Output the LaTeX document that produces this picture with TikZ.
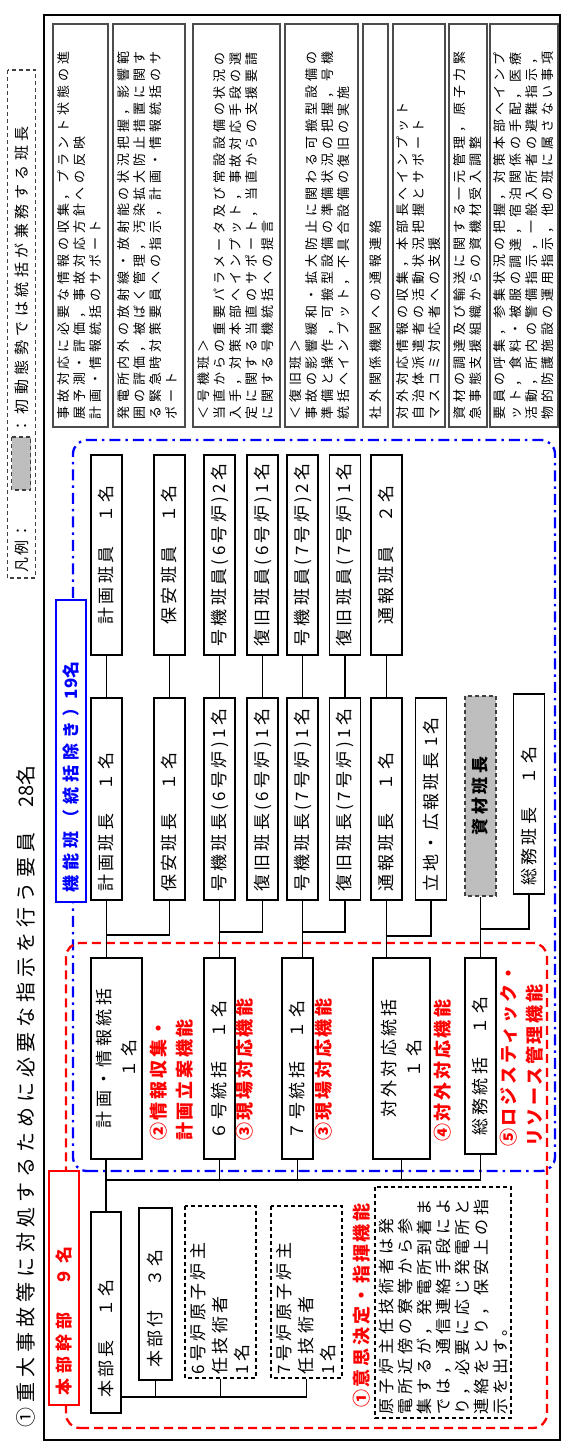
\documentclass[tikz,border=0pt]{standalone}
\usepackage{fontspec}
\setmainfont{Noto Sans CJK JP}
\newfontfamily\jpBox[LetterSpace=20]{Noto Sans CJK JP}
\newfontfamily\jpDesc[LetterSpace=30]{Noto Sans CJK JP}
\newfontfamily\jpTitle[LetterSpace=25]{Noto Sans CJK JP}
\newfontfamily\jpRed[LetterSpace=15]{Noto Sans CJK JP}
\newfontfamily\jpLbl[LetterSpace=30]{Noto Sans CJK JP}
\newfontfamily\jpNote[LetterSpace=25]{Noto Sans CJK JP}
\definecolor{grayfill}{RGB}{190,190,190}
\tikzset{
  box/.style={draw=black, line width=1.1pt, fill=white, inner sep=0pt, font=\jpBox\fontsize{17}{20}\selectfont},
  memb/.style={box, minimum width=200pt, minimum height=31pt, align=center},
  lead/.style={box, minimum width=202pt, minimum height=31pt, text width=186pt, align=left},
  sub/.style={box, minimum width=201pt, minimum height=31pt, text width=163pt, align=left},
  dbox/.style={box, dashed, dash pattern=on 4pt off 3pt},
  graybox/.style={draw=black!75, line width=1.1pt, dash pattern=on 4pt off 3pt, fill=grayfill, inner sep=0pt},
  descbox/.style={draw=black!70, line width=1.3pt},
  desc/.style={anchor=north west, inner sep=0pt, align=left, font=\jpDesc\fontsize{13}{16}\selectfont},
  redlbl/.style={anchor=west, inner sep=0pt, align=left, text=red, font=\jpRed\bfseries\fontsize{18}{26}\selectfont},
  conn/.style={draw=black, line width=1.1pt},
  bluecont/.style={draw=blue, line width=2.3pt, rounded corners=14pt, dash pattern=on 11pt off 5pt on 2.5pt off 5pt},
  redcont/.style={draw=red, line width=2.3pt, rounded corners=14pt, dash pattern=on 9pt off 5pt},
}
\begin{document}
\begin{tikzpicture}[x=1pt,y=1pt]
\useasboundingbox (0,0) rectangle (562,1445);
\begin{scope}[rotate=90, transform shape]
% outer frame
\draw[line width=2.6pt] (5,-44) rectangle (1430,-560);
% title
\node[anchor=west, inner sep=0pt, font=\jpTitle\fontsize{20}{24}\selectfont] (title) at (17,-26) {①重大事故等に対処するために必要な指示を行う要員　{\rmfamily 28}名};
% legend
\node[draw=black!75, line width=1.1pt, dash pattern=on 4pt off 3pt, minimum width=508pt, minimum height=28pt, inner sep=0pt] (leg) at (1121,-21.5) {};
\node[anchor=west, inner sep=0pt, font=\jpRed\fontsize{15}{18}\selectfont] (legt1) at (872,-21.5) {凡例：};
\node[graybox, minimum width=53pt, minimum height=19pt] (legg) at (981.5,-21) {};
\node[anchor=west, inner sep=0pt, font=\jpLbl\fontsize{15}{18}\selectfont] (legt2) at (1011,-21.5) {：初動態勢では統括が兼務する班長};

% description boxes
\draw[descbox] (1018,-53) rectangle (1421,-108);
\node[desc] (d1) at (1025,-57) {事故対応に必要な情報の収集，プラント状態の進\\展予測・評価，事故対応方針への反映\\計画・情報統括のサポート};
\draw[descbox] (1018,-113) rectangle (1421,-185);
\node[desc] (d2) at (1025,-117) {発電所内外の放射線・放射能の状況把握，影響範\\囲の評価，被ばく管理，汚染拡大防止措置に関す\\る緊急時対策要員への指示，計画・情報統括のサ\\ポート};
\draw[descbox] (1018,-193) rectangle (1421,-280);
\node[desc] (d3) at (1025,-197) {＜号機班＞\\当直からの重要パラメータ及び常設設備の状況の\\入手，対策本部へインプット，事故対応手段の選\\定に関する当直のサポート，当直からの支援要請\\に関する号機統括への提言};
\draw[descbox] (1018,-285) rectangle (1421,-358);
\node[desc] (d4) at (1025,-289) {＜復旧班＞\\事故の影響緩和・拡大防止に関わる可搬型設備の\\準備と操作，可搬型設備の準備状況の把握，号機\\統括へインプット，不具合設備の復旧の実施};
\draw[descbox] (1018,-363) rectangle (1421,-388);
\node[desc, anchor=west] (d5) at (1025,-375.5) {社外関係機関への通報連絡};
\draw[descbox] (1018,-393) rectangle (1421,-445);
\node[desc] (d6) at (1025,-396) {対外対応情報の収集，本部長へインプット\\自治体派遣者の活動状況把握とサポート\\マスコミ対応者への支援};
\draw[descbox] (1018,-449) rectangle (1421,-487);
\node[desc] (d7) at (1025,-453) {資材の調達及び輸送に関する一元管理，原子力緊\\急事態支援組織からの資機材受入調整};
\draw[descbox] (1018,-490) rectangle (1421,-558);
\node[desc] (d8) at (1025,-493) {要員の呼集，参集状況の把握，対策本部へインプ\\ット，食料・被服の調達，宿泊関係の手配，医療\\活動，所内の警備指示，一般入所者の避難指示，\\物的防護施設の運用指示，他の班に属さない事項};

% containers
\draw[bluecont] (274,-73) rectangle (1005,-555);
\draw[redcont] (17,-66) rectangle (502,-547);

% group labels
\node[draw=blue, line width=1.1pt, fill=white, minimum width=302pt, minimum height=30pt, text width=284pt, align=left, inner sep=0pt, text=blue, font=\jpLbl\bfseries\fontsize{17}{20}\selectfont] (kino) at (694,-71) {機能班（統括除き）{\rmfamily 19}名};
\node[draw=red, line width=1.1pt, fill=white, minimum width=234pt, minimum height=30pt, text width=216pt, align=left, inner sep=0pt, text=red, font=\jpLbl\bfseries\fontsize{17}{20}\selectfont] (honbu) at (157,-64) {本部幹部　９名};

% members (column 4)
\node[memb] (m1) at (890,-106.5) {計画班員　１名};
\node[memb] (m2) at (890,-169.5) {保安班員　１名};
\node[memb] (m3) at (890,-219.5) {号機班員(6号炉)2名};
\node[memb] (m4) at (890,-262.5) {復旧班員(6号炉)1名};
\node[memb] (m5) at (890,-302.5) {号機班員(7号炉)2名};
\node[memb] (m6) at (890,-345) {復旧班員(7号炉)1名};
\node[memb] (m7) at (890,-386.5) {通報班員　２名};

% leaders (column 3)
\node[lead] (l1) at (646,-106.5) {計画班長　１名};
\node[lead] (l2) at (646,-169.5) {保安班長　１名};
\node[lead] (l3) at (646,-219.5) {号機班長(6号炉)1名};
\node[lead] (l4) at (646,-262.5) {復旧班長(6号炉)1名};
\node[lead] (l5) at (646,-302.5) {号機班長(7号炉)1名};
\node[lead] (l6) at (646,-345) {復旧班長(7号炉)1名};
\node[lead] (l7) at (646,-386.5) {通報班長　１名};
\node[lead] (l8) at (646,-431) {立地・広報班長 1名};
\node[graybox, minimum width=200pt, minimum height=31pt, align=center, font=\jpBox\bfseries\fontsize{17}{20}\selectfont] (l9) at (649,-480.5) {資材班長};
\node[lead, minimum width=200pt, text width=184pt] (l10) at (651,-529) {総務班長　１名};

% supervisors (column 2)
\node[sub, minimum height=51pt, align=center, font=\jpBox\fontsize{17}{25}\selectfont] (s1) at (386.5,-116.5) {計画・情報統括\\１名};
\node[sub] (s3) at (386.5,-219.5) {６号統括　１名};
\node[sub] (s5) at (386.5,-297.5) {７号統括　１名};
\node[sub, minimum height=57pt, align=center, font=\jpBox\fontsize{17}{25}\selectfont] (s7) at (386.5,-401.5) {対外対応統括\\１名};
\node[sub, minimum width=196pt, text width=160pt] (s9) at (389,-480.5) {総務統括　１名};

% headquarters (column 1)
\node[box, minimum width=201pt, minimum height=30pt, text width=171pt, align=left] (h1) at (132.5,-106) {本部長　１名};
\node[box, minimum width=172pt, minimum height=33pt, text width=148pt, align=left] (h2) at (151,-155.5) {本部付　３名};
\node[dbox, minimum width=172pt, minimum height=71pt, text width=165pt, align=left, font=\jpBox\fontsize{17}{22}\selectfont] (h3) at (153,-220.5) {6号炉原子炉主\\任技術者\\1名};
\node[dbox, minimum width=172pt, minimum height=71pt, text width=165pt, align=left, font=\jpBox\fontsize{17}{22}\selectfont] (h4) at (153,-306.5) {7号炉原子炉主\\任技術者\\1名};
\node[dbox, minimum width=231pt, minimum height=136pt, text width=224pt, align=left, font=\jpNote\fontsize{16}{19}\selectfont] (note) at (142.5,-443) {原子炉主任技術者は発\\電所近傍の寮等から参\\集するが，発電所到着ま\\では，通信連絡手段によ\\り，必要に応じ発電所と\\連絡をとり，保安上の指\\示を出す。};

% function labels
\node[redlbl] (f2) at (304,-171.5) {②情報収集・\\計画立案機能};
\node[redlbl] (f3a) at (304,-245) {③現場対応機能};
\node[redlbl] (f3b) at (304,-324) {③現場対応機能};
\node[redlbl] (f4) at (303,-443) {④対外対応機能};
\node[redlbl] (f5) at (298,-521.5) {⑤ロジスティック・\\リソース管理機能};
\node[redlbl] (f1) at (37,-362) {①意思決定・指揮機能};

% connectors: leaders to members
\draw[conn] (l1.east) -- (m1.west);
\draw[conn] (l2.east) -- (m2.west);
\draw[conn] (l3.east) -- (m3.west);
\draw[conn] (l4.east) -- (m4.west);
\draw[conn] (l5.east) -- (m5.west);
\draw[conn] (l6.east) -- (m6.west);
\draw[conn] (l7.east) -- (m7.west);

% connectors: supervisors to leaders
\coordinate (bA) at (510,-106.5);
\draw[conn] (l1.west) -- (l1.west -| s1.east);
\draw[conn] (l2.west) -| (bA);
\coordinate (bB) at (513,-219.5);
\draw[conn] (l3.west) -- (l3.west -| s3.east);
\draw[conn] (l4.west) -| (bB);
\coordinate (bC) at (513,-302.5);
\draw[conn] (l5.west) -- (l5.west -| s5.east);
\draw[conn] (l6.west) -| (bC);
\coordinate (bD) at (509,-386.5);
\draw[conn] (l7.west) -- (l7.west -| s7.east);
\draw[conn] (l8.west) -| (bD);
\coordinate (bE) at (516,-480.5);
\draw[conn] (l9.west) -- (l9.west -| s9.east);
\draw[conn] (l10.west) -| (bE);

% connectors: head to supervisors
\coordinate (bF) at (265,-106);
\draw[conn] (bF -| s1.west) -- (h1.east);
\draw[conn] (s3.west) -- (s3.west -| bF);
\draw[conn] (s5.west) -- (s5.west -| bF);
\draw[conn] (s7.west) -- (s7.west -| bF);
\draw[conn] (s9.west) -- (s9.west -| bF);
\draw[conn] (bF) -- (bF |- s9.west);

% connectors: head to staff
\coordinate (bG) at (48,-121);
\draw[conn] (bG) -- (bG |- h4.west);
\draw[conn] (h2.west) -- (h2.west -| bG);
\draw[conn] (h3.west) -- (h3.west -| bG);
\draw[conn] (h4.west) -- (h4.west -| bG);
\end{scope}
\end{tikzpicture}
\end{document}
